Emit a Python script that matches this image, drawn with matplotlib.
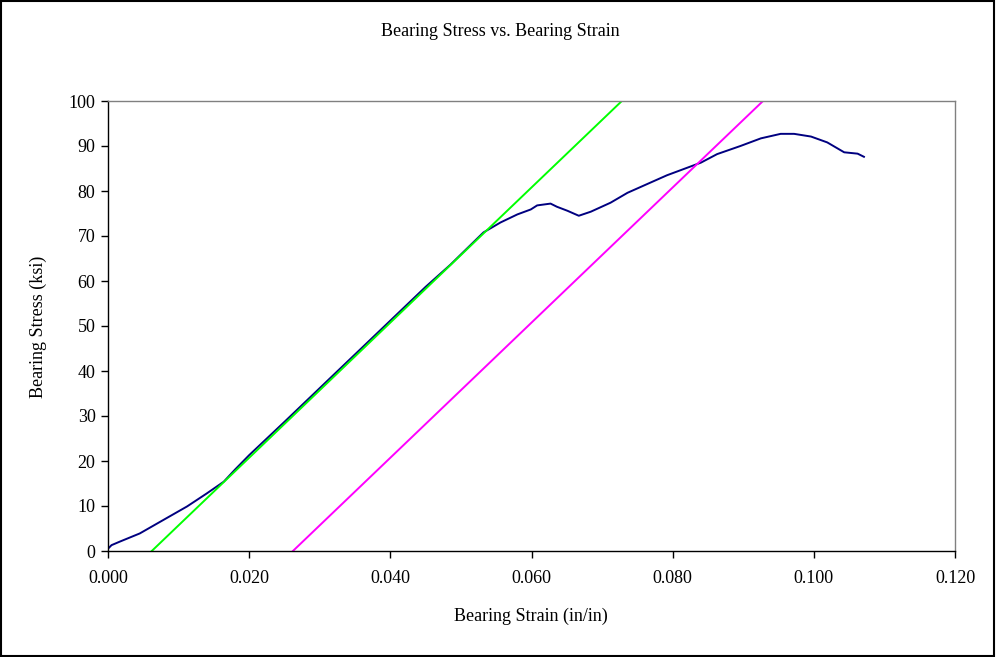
import matplotlib
matplotlib.use("Agg")
import matplotlib.pyplot as plt
from matplotlib.patches import Rectangle

plt.rcParams['font.family'] = ['Liberation Serif', 'DejaVu Serif']

# Measured bearing response
strain = [0.0000, 0.0005, 0.0017, 0.0045, 0.0074, 0.0112, 0.0140, 0.0164,
          0.0180, 0.0200, 0.0250, 0.0300, 0.0350, 0.0400, 0.0450, 0.0485,
          0.0532, 0.0556, 0.0580, 0.0599, 0.0608, 0.0627, 0.0636, 0.0651,
          0.0667, 0.0684, 0.0712, 0.0736, 0.0769, 0.0792, 0.0816, 0.0840,
          0.0863, 0.0896, 0.0925, 0.0953, 0.0972, 0.0996, 0.1019, 0.1043,
          0.1062, 0.1071]
stress = [0.5, 1.3, 2.1, 3.9, 6.5, 9.9, 12.8, 15.4,
          18.1, 21.3, 28.7, 36.2, 43.7, 51.2, 58.7, 63.6,
          70.8, 73.0, 74.8, 75.9, 76.8, 77.2, 76.5, 75.6,
          74.5, 75.4, 77.4, 79.6, 81.9, 83.5, 84.9, 86.3,
          88.2, 90.0, 91.7, 92.7, 92.7, 92.1, 90.8, 88.6,
          88.3, 87.6]

# Elastic modulus line and 2% offset line
modulus_strain = [0.0062, 0.0728]
modulus_stress = [0.0, 100.0]
offset_strain = [0.0262, 0.0928]
offset_stress = [0.0, 100.0]

x_ticks = [0.000, 0.020, 0.040, 0.060, 0.080, 0.100, 0.120]
y_ticks = [0, 10, 20, 30, 40, 50, 60, 70, 80, 90, 100]

FS = 13

fig = plt.figure(figsize=(9.96, 6.57), dpi=100)
fig.patch.set_facecolor('white')
fig.patches.append(Rectangle((0.001, 0.002), 0.997, 0.996, transform=fig.transFigure,
                             fill=False, edgecolor='black', linewidth=1.5))

ax = fig.add_axes([108 / 996, 106 / 657, 847 / 996, 450 / 657])
ax.plot(strain, stress, color='#000080', linewidth=1.4)
ax.plot(modulus_strain, modulus_stress, color='#00FF00', linewidth=1.4)
ax.plot(offset_strain, offset_stress, color='#FF00FF', linewidth=1.4)

ax.set_xlim(0, 0.12)
ax.set_ylim(0, 100)
ax.set_xticks(x_ticks)
ax.set_xticklabels([f"{v:.3f}" for v in x_ticks])
ax.set_yticks(y_ticks)
ax.set_yticklabels([str(v) for v in y_ticks])
ax.tick_params(axis='both', direction='out', length=5, width=1, labelsize=FS,
               color='black')
ax.tick_params(axis='x', pad=9)
ax.tick_params(axis='y', pad=4)

for side in ('left', 'bottom'):
    ax.spines[side].set_color('black')
    ax.spines[side].set_linewidth(1.0)
for side in ('top', 'right'):
    ax.spines[side].set_color('#808080')
    ax.spines[side].set_linewidth(1.0)

fig.text(500 / 996, 1 - 32 / 657, 'Bearing Stress vs. Bearing Strain',
         ha='center', va='center', fontsize=FS)
fig.text(531 / 996, 1 - 616 / 657, 'Bearing Strain (in/in)',
         ha='center', va='center', fontsize=FS)
fig.text(38 / 996, 1 - 327 / 657, 'Bearing Stress (ksi)', rotation=90,
         ha='center', va='center', fontsize=FS)

fig.savefig('out.png', dpi=100, facecolor='white')
